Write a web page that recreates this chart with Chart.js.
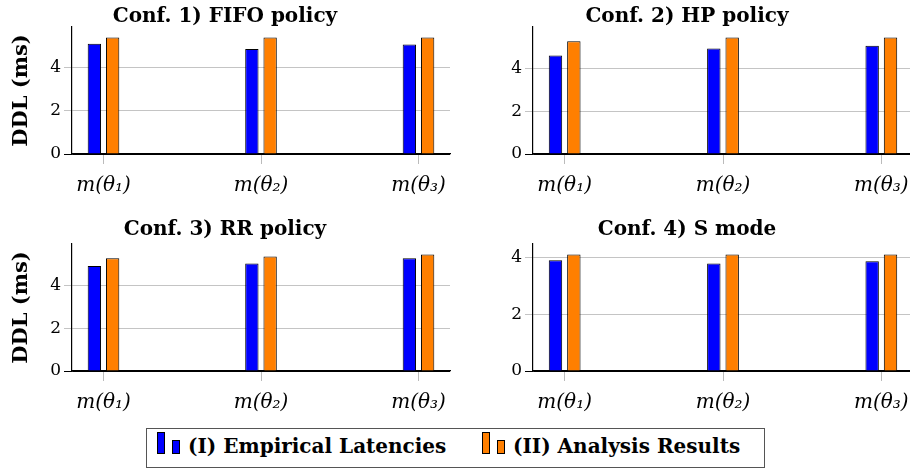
<!DOCTYPE html>
<html>
<head>
<meta charset="utf-8">
<script src="https://cdn.jsdelivr.net/npm/chart.js@4"></script>
<style>
  html, body { margin: 0; padding: 0; background: #fff; }
  body { width: 910px; height: 468px; position: relative; overflow: hidden; }
  canvas { position: absolute; }
  #legend {
    position: absolute; left: 146px; top: 428px; width: 619px; height: 40px;
    border: 1px solid #555; box-sizing: border-box;
    font: bold 20px "DejaVu Serif", serif; color: #000;
  }
  .item { position: absolute; top: 0; height: 100%; }
  .sw { position: absolute; width: 8px; border: 1px solid #000; box-sizing: border-box; }
  .lbl { position: absolute; top: 5px; white-space: nowrap; }
</style>
</head>
<body>
<canvas id="c1" width="460" height="200" style="left:0;top:0"></canvas>
<canvas id="c2" width="462" height="200" style="left:461px;top:0"></canvas>
<canvas id="c3" width="460" height="200" style="left:0;top:217px"></canvas>
<canvas id="c4" width="462" height="200" style="left:461px;top:217px"></canvas>
<div id="legend"></div>
<script>
// categories and series
const categories = ['m(θ₁)', 'm(θ₂)', 'm(θ₃)'];
const seriesNames = ['(I) Empirical Latencies', '(II) Analysis Results'];
const seriesColors = ['#0000ff', '#ff7f00'];
const panelTitles = ['Conf. 1) FIFO policy', 'Conf. 2) HP policy', 'Conf. 3) RR policy', 'Conf. 4) S mode'];

// DDL in ms, one array per configuration
const fifoEmpirical = [5.12, 4.87, 5.08];
const fifoAnalysis  = [5.41, 5.41, 5.41];
const hpEmpirical   = [4.59, 4.92, 5.04];
const hpAnalysis    = [5.26, 5.43, 5.43];
const rrEmpirical   = [4.94, 5.06, 5.30];
const rrAnalysis    = [5.30, 5.38, 5.48];
const sEmpirical    = [3.91, 3.79, 3.87];
const sAnalysis     = [4.11, 4.11, 4.11];

const yTicks = [0, 2, 4];

const serif = '"DejaVu Serif", serif';
Chart.defaults.font.family = serif;
Chart.defaults.color = '#000';

function toPoints(values) {
  return values.map((v, i) => ({ x: i + 1, y: v }));
}

function makePanel(id, title, empirical, analysis, showYTitle, titlePad) {
  const ymax = Math.max(...empirical, ...analysis) * 1.09;
  const data = {
    datasets: [empirical, analysis].map((vals, k) => ({
      label: seriesNames[k],
      data: toPoints(vals),
      backgroundColor: seriesColors[k],
      borderColor: '#000',
      borderWidth: 1,
      categoryPercentage: 0.232,
      barPercentage: 0.73
    }))
  };
  const options = {
    responsive: false,
    animation: false,
    layout: { padding: { left: 0, right: 10, top: 0, bottom: 0 } },
    plugins: {
      legend: { display: false },
      tooltip: { enabled: false },
      title: {
        display: true,
        text: title,
        font: { size: 20, weight: 'bold', family: serif, lineHeight: 1.0 },
        color: '#000',
        padding: titlePad
      }
    },
    scales: {
      x: {
        type: 'linear',
        offset: false,
        min: 0.8,
        max: 3.2,
        afterBuildTicks: s => { s.ticks = categories.map((c, i) => ({ value: i + 1 })); },
        afterFit: s => { s.height = 46; },
        ticks: {
          callback: v => categories[Math.round(v) - 1],
          font: { size: 20, style: 'italic', family: serif },
          color: '#000',
          padding: 10,
          maxRotation: 0,
          autoSkip: false
        },
        grid: { offset: false, drawOnChartArea: false, drawTicks: true, tickLength: 10, color: '#bbb' },
        border: { display: true, color: '#000', width: 1.2 }
      },
      y: {
        min: 0,
        max: ymax,
        afterBuildTicks: s => { s.ticks = yTicks.map(v => ({ value: v })); },
        afterFit: s => { s.width = 72; },
        ticks: { font: { size: 17, family: serif }, color: '#000', padding: 3 },
        grid: {
          color: c => (c.tick && c.tick.value === 0) ? '#000' : '#c4c4c4',
          drawTicks: true,
          tickLength: 8
        },
        border: { display: true, color: '#000', width: 1.2 },
        title: {
          display: showYTitle,
          text: 'DDL (ms)',
          font: { size: 21, weight: 'bold', family: serif },
          color: '#000',
          padding: { top: 9, bottom: 0 }
        }
      }
    }
  };
  return new Chart(document.getElementById(id), { type: 'bar', data: data, options: options });
}

const topRowPad = { top: 7, bottom: 0 };
const bottomRowPad = { top: 2.5, bottom: 4.5 };
makePanel('c1', panelTitles[0], fifoEmpirical, fifoAnalysis, true, topRowPad);
makePanel('c2', panelTitles[1], hpEmpirical, hpAnalysis, false, topRowPad);
makePanel('c3', panelTitles[2], rrEmpirical, rrAnalysis, true, bottomRowPad);
makePanel('c4', panelTitles[3], sEmpirical, sAnalysis, false, bottomRowPad);

// legend box at the bottom
const legend = document.getElementById('legend');
const itemLeft = [10, 335];
seriesNames.forEach((name, k) => {
  const item = document.createElement('div');
  item.className = 'item';
  item.style.left = itemLeft[k] + 'px';
  const a = document.createElement('div');
  a.className = 'sw';
  a.style.cssText = 'left:0;top:3px;height:22px;background:' + seriesColors[k];
  const b = document.createElement('div');
  b.className = 'sw';
  b.style.cssText = 'left:15px;top:11px;height:14px;background:' + seriesColors[k];
  const t = document.createElement('div');
  t.className = 'lbl';
  t.style.left = '31px';
  t.textContent = name;
  item.appendChild(a); item.appendChild(b); item.appendChild(t);
  legend.appendChild(item);
});
</script>
</body>
</html>
